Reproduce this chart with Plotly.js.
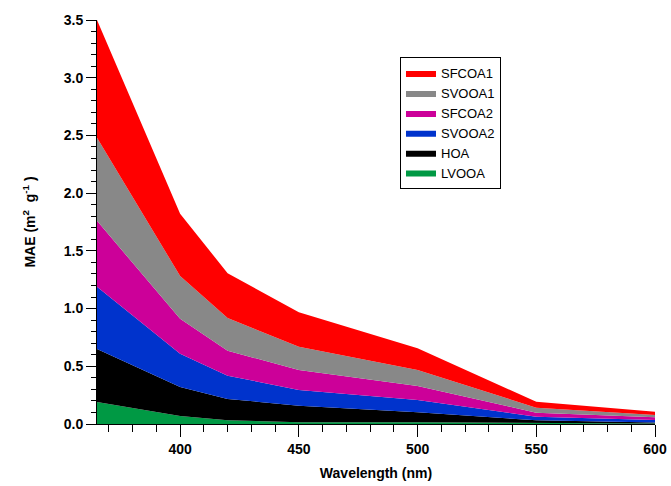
<!DOCTYPE html>
<html>
<head>
<meta charset="utf-8">
<script src="https://cdn.plot.ly/plotly-3.0.1.min.js"></script>
<style>html,body{margin:0;padding:0;background:#fff;}#chart{width:671px;height:486px;}</style>
</head>
<body>
<div id="chart"></div>
<script>
const wavelength = [365, 400, 420, 450, 500, 550, 600];
const LVOOA  = [0.19, 0.07, 0.032, 0.015, 0.015, 0.010, 0.005];
const HOA    = [0.46, 0.25, 0.185, 0.144, 0.086, 0.022, 0.007];
const SVOOA2 = [0.54, 0.289, 0.202, 0.136, 0.107, 0.031, 0.023];
const SFCOA2 = [0.57, 0.303, 0.216, 0.173, 0.121, 0.035, 0.023];
const SVOOA1 = [0.72, 0.37, 0.283, 0.202, 0.139, 0.043, 0.020];
const SFCOA1 = [1.02, 0.54, 0.388, 0.298, 0.188, 0.052, 0.029];

const seriesNames = ['LVOOA', 'HOA', 'SVOOA2', 'SFCOA2', 'SVOOA1', 'SFCOA1'];
const seriesData = [LVOOA, HOA, SVOOA2, SFCOA2, SVOOA1, SFCOA1];
const seriesColors = ['#009944', '#000000', '#0033cc', '#cc0099', '#888888', '#ff0000'];

const traces = seriesNames.map((n, i) => ({
  x: wavelength,
  y: seriesData[i],
  name: n,
  type: 'scatter',
  mode: 'lines',
  stackgroup: 'one',
  line: {width: 0, color: seriesColors[i]},
  fillcolor: seriesColors[i]
}));

const fontFam = 'Liberation Sans, Arial, sans-serif';
const layout = {
  width: 671, height: 486,
  margin: {l: 97, r: 16, t: 20, b: 62},
  paper_bgcolor: '#fff', plot_bgcolor: '#fff',
  font: {family: fontFam, color: '#000', size: 13},
  showlegend: true,
  legend: {
    x: 0.543, y: 0.908, xanchor: 'left', yanchor: 'top',
    traceorder: 'reversed',
    bordercolor: '#000', borderwidth: 1,
    font: {family: fontFam, size: 13, color: '#000'},
    itemwidth: 30
  },
  xaxis: {
    range: [365, 600],
    tickmode: 'linear', tick0: 400, dtick: 50,
    ticks: 'outside', ticklen: 12, tickwidth: 1, tickcolor: '#000',
    minor: {dtick: 10, tick0: 400, ticks: 'outside', ticklen: 7, tickcolor: '#000', tickwidth: 1},
    showline: true, linecolor: '#000', linewidth: 1,
    showgrid: false, zeroline: false,
    tickfont: {family: fontFam, size: 14, color: '#000', weight: 'bold'},
    title: {text: '<b>Wavelength (nm)</b>', font: {family: fontFam, size: 14, color: '#000'}, standoff: 12}
  },
  yaxis: {
    range: [0, 3.5],
    tickmode: 'linear', tick0: 0, dtick: 0.5, tickformat: '.1f',
    ticks: 'outside', ticklen: 10, tickwidth: 1, tickcolor: '#000',
    minor: {dtick: 0.1, ticks: 'outside', ticklen: 5, tickcolor: '#000', tickwidth: 1},
    showline: true, linecolor: '#000', linewidth: 1,
    showgrid: false, zeroline: false,
    tickfont: {family: fontFam, size: 14, color: '#000', weight: 'bold'},
    title: {text: '<b>MAE (m<sup>2</sup>  g<sup>-1</sup> )</b>', font: {family: fontFam, size: 14, color: '#000'}, standoff: 24}
  }
};

Plotly.newPlot('chart', traces, layout, {displayModeBar: false, staticPlot: true});
</script>
</body>
</html>
